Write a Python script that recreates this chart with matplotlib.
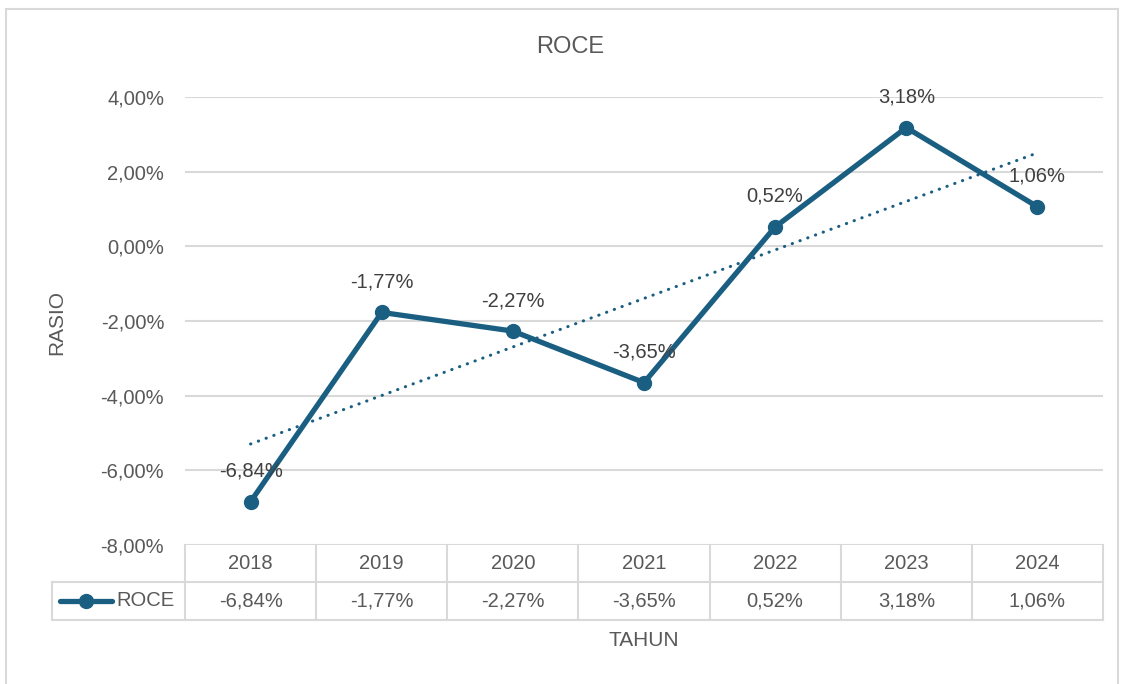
import matplotlib.pyplot as plt
import matplotlib.patches as patches
import numpy as np

years = ['2018', '2019', '2020', '2021', '2022', '2023', '2024']
roce = [-6.84, -1.77, -2.27, -3.65, 0.52, 3.18, 1.06]
roce_labels = ['-6,84%', '-1,77%', '-2,27%', '-3,65%', '0,52%', '3,18%', '1,06%']
yticks = [-8, -6, -4, -2, 0, 2, 4]
ytick_labels = ['-8,00%', '-6,00%', '-4,00%', '-2,00%', '0,00%', '2,00%', '4,00%']

line_col = '#1a5f82'
grid_col = '#d9d9d9'
txt_col = '#595959'
fs = 14.5

plt.rcParams['font.family'] = ['Liberation Sans', 'DejaVu Sans']

fig = plt.figure(figsize=(11.24, 6.84), dpi=100)
W, H = 1124, 684

# outer chart border
fig.patches.append(patches.Rectangle((6 / W, -0.05), 1112 / W, 1.05 - 9 / H,
                                     transform=fig.transFigure, fill=False,
                                     edgecolor=grid_col, linewidth=1.5))

ax_l, ax_r, ax_t, ax_b = 185, 1103, 97, 545
ax = fig.add_axes([ax_l / W, 1 - ax_b / H, (ax_r - ax_l) / W, (ax_b - ax_t) / H])

x = np.arange(len(years))
ax.set_xlim(-0.5, len(years) - 0.5)
ax.set_ylim(-8, 4)
for s in ax.spines.values():
    s.set_visible(False)
ax.set_yticks(yticks)
ax.set_yticklabels(ytick_labels, color=txt_col, fontsize=fs)
ax.set_xticks([])
ax.tick_params(axis='y', length=0, pad=15)
ax.yaxis.grid(True, color=grid_col, linewidth=1.5)
ax.set_axisbelow(True)

# trendline
k, b = np.polyfit(x, roce, 1)
ax.plot(x, k * x + b, color=line_col, linewidth=2.2, linestyle=(0, (0.1, 2.6)),
        dash_capstyle='round')

ax.plot(x, roce, color=line_col, linewidth=3.8, marker='o', markersize=10,
        solid_capstyle='round', zorder=3)
for xi, yi, lab in zip(x, roce, roce_labels):
    ax.annotate(lab, (xi, yi), xytext=(0, 22), textcoords='offset points',
                ha='center', va='center', color='#404040', fontsize=fs, zorder=4)

# data table below the axes
aw = ax_r - ax_l
ah = ax_b - ax_t
r1 = -(582 - ax_b) / ah
r2 = -(620 - ax_b) / ah
leg_l = -(ax_l - 52) / aw
kw = dict(transform=ax.transAxes, color=grid_col, linewidth=1.5, clip_on=False)
ax.plot([0, 1], [r1, r1], **kw)
ax.plot([leg_l, 1], [r2, r2], **kw)
ax.plot([leg_l, 0], [r1, r1], **kw)
ax.plot([leg_l, leg_l], [r1, r2], **kw)
n = len(years)
for i in range(n + 1):
    ax.plot([i / n, i / n], [0, r2], **kw)
for i in range(n):
    xc = (i + 0.5) / n
    ax.text(xc, r1 / 2, years[i], transform=ax.transAxes, ha='center', va='center',
            color=txt_col, fontsize=fs)
    ax.text(xc, (r1 + r2) / 2, roce_labels[i], transform=ax.transAxes, ha='center',
            va='center', color=txt_col, fontsize=fs)

# legend key inside table
ym = (r1 + r2) / 2
ax.plot([(60 - ax_l) / aw, (112 - ax_l) / aw], [ym, ym], transform=ax.transAxes,
        color=line_col, linewidth=3.8, solid_capstyle='round', clip_on=False)
ax.plot([(86 - ax_l) / aw], [ym], transform=ax.transAxes, marker='o', markersize=10,
        color=line_col, clip_on=False)
ax.text((116 - ax_l) / aw, ym, 'ROCE', transform=ax.transAxes, ha='left', va='center',
        color=txt_col, fontsize=fs)

fig.text(570 / W, 1 - 47 / H, 'ROCE', ha='center', va='center', color=txt_col, fontsize=17)
fig.text(57 / W, 1 - 322 / H, 'RASIO', ha='center', va='center', rotation=90,
         color=txt_col, fontsize=fs + 0.5)
fig.text(644 / W, 1 - 640 / H, 'TAHUN', ha='center', va='center', color=txt_col,
         fontsize=fs + 0.5)

fig.savefig('out.png', dpi=100)
